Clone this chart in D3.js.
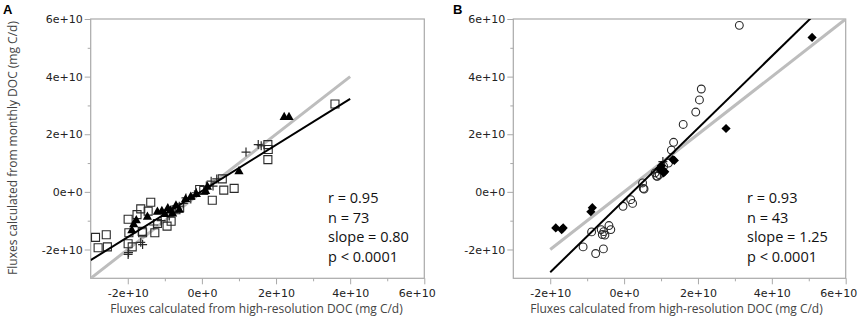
<!DOCTYPE html>
<html>
<head>
<meta charset="utf-8">
<script src="https://cdn.jsdelivr.net/npm/d3@7"></script>
<style>
  html, body { margin: 0; padding: 0; background: #fff; }
  svg { display: block; }
</style>
</head>
<body>
<svg id="chart" width="859" height="320"></svg>
<script>
// ---------------- DATA (values in units of 1e10 mg C/d) ----------------
const E = 1e10;

// Panel A
const aSquaresX = [-2.87,-2.58,-2.80,-2.55,-1.99,-1.97,-1.99,-1.88,-1.65,-1.38,-1.45,-1.60,-1.27,-0.94,-0.83,-1.75,-1.20,-0.60,-0.06,0.28,0.55,0.59,0.87,1.78,1.79,1.78,3.59,0.05,-1.61,-0.70];
const aSquaresY = [-1.58,-1.49,-1.94,-1.91,-0.95,-1.42,-1.80,-1.91,-0.59,-0.36,-0.67,-1.42,-1.42,-1.19,-1.02,-0.79,-1.10,-0.55,0.08,-0.29,0.45,0.06,0.12,1.64,1.47,1.12,3.05,0.05,-1.37,-0.62];
const aTrianglesX = [2.22,2.35,1.00,-0.44,-1.08,-0.92,-1.77,-1.89,-1.47,-0.79,-0.61,-1.20,-1.00,-0.30,-0.15,0.10,-0.85,-1.84,-0.70,0.15];
const aTrianglesY = [2.62,2.62,0.74,-0.23,-0.64,-0.55,-0.96,-1.31,-0.84,-0.73,-0.60,-0.67,-0.75,-0.15,-0.05,0.05,-0.62,-1.10,-0.45,0.20];
const aPlusX = [-1.99,-1.60,1.19,1.52,1.60,0.25,0.12,-0.43,-0.61,-0.88,-0.15,-0.30,-0.75,-1.10,-0.50,0.40,-0.20,-1.30,0.30,-1.65,-1.98];
const aPlusY = [-2.17,-1.83,1.38,1.64,1.60,0.37,0.20,-0.21,-0.50,-0.84,-0.03,-0.25,-0.70,-1.00,-0.40,0.45,-0.10,-1.15,0.20,-1.75,-2.11];
const aFit = { slope: 0.80, intercept: 0.03, x0: -3, x1: 4 };
const aIdentity = { x0: -3, x1: 4 };
const aStats = ["r = 0.95", "n = 73", "slope = 0.80", "p < 0.0001"];

// Panel B
const bCirclesX = [3.12,2.09,2.04,1.94,1.60,1.34,1.28,1.07,0.90,0.84,0.54,0.50,0.18,0.23,-0.03,-0.88,-1.11,-0.77,-0.56,-0.62,-0.59,-0.52,-0.41,-0.36,0.95,0.88,1.20,0.52,-0.55];
const bCirclesY = [5.78,3.57,3.19,2.77,2.34,1.72,1.45,0.89,0.54,0.66,0.10,0.31,-0.27,-0.40,-0.50,-1.39,-1.91,-2.14,-1.98,-1.31,-1.48,-1.50,-1.17,-1.31,0.60,0.55,1.00,0.12,-1.38];
const bDiamondsX = [5.09,2.76,1.36,1.32,1.07,1.01,1.05,0.95,-0.86,-0.90,-1.85,-1.69,-1.65,1.10];
const bDiamondsY = [5.36,2.20,1.09,1.12,0.66,0.91,0.75,0.80,-0.55,-0.69,-1.25,-1.31,-1.25,0.70];
const bPlusX = [1.05,0.97];
const bPlusY = [1.05,0.78];
const bFit = { slope: 1.25, intercept: -0.29, x0: -2, x1: 6 };
const bIdentity = { x0: -2, x1: 6 };
const bStats = ["r = 0.93", "n = 43", "slope = 1.25", "p < 0.0001"];

// Axes
const axisDomain = [-3, 6];
const majorTicks = [-2, 0, 2, 4, 6];
const majorTickLabels = ["-2e+10", "0e+0", "2e+10", "4e+10", "6e+10"];
const minorTicks = [-1, 1, 3, 5];
const xTitle = "Fluxes calculated from high-resolution DOC (mg C/d)";
const yTitle = "Fluxes calculated from monthly DOC (mg C/d)";
const panelLabels = ["A", "B"];

// ---------------- DRAWING ----------------
const svg = d3.select("#chart");
const frameColor = "#a9a9a9";
const tickFont = "'DejaVu Sans', Verdana, sans-serif";
const textFont = "'Open Sans', 'Noto Sans', sans-serif";

const zip = (xs, ys) => xs.map((x, i) => ({ x: x * E, y: ys[i] * E }));

const shapes = {
  square: "M-4,-4H4V4H-4Z",
  triangle: "M0,-4.6L4.6,3.6H-4.6Z",
  plus: "M-4.5,0H4.5M0,-4.5V4.5",
  circle: d3.symbol(d3.symbolCircle, 48)(),
  diamond: "M0,-4.6L4.6,0L0,4.6L-4.6,0Z"
};
const shapeStyle = {
  square:  { fill: "none", stroke: "#2a2a2a", sw: 1.1 },
  triangle:{ fill: "#000", stroke: "none", sw: 0 },
  plus:    { fill: "none", stroke: "#2a2a2a", sw: 1.2 },
  circle:  { fill: "none", stroke: "#2a2a2a", sw: 1.1 },
  diamond: { fill: "#000", stroke: "none", sw: 0 }
};

function drawPanel(cfg) {
  const x = d3.scaleLinear().domain(axisDomain.map(v => v * E)).range([cfg.left, cfg.right]);
  const y = d3.scaleLinear().domain(axisDomain.map(v => v * E)).range([cfg.bottom, cfg.top]);
  const g = svg.append("g");

  const clipId = "clip" + cfg.label;
  g.append("clipPath").attr("id", clipId)
    .append("rect").attr("x", cfg.left).attr("y", cfg.top)
    .attr("width", cfg.right - cfg.left).attr("height", cfg.bottom - cfg.top);

  // Y axis ticks (major + minor) on left edge
  const yAxis = d3.axisLeft(y).tickValues(majorTicks.map(v => v * E))
    .tickFormat((d, i) => majorTickLabels[i]).tickSizeOuter(0).tickSize(6).tickPadding(2);
  const ya = g.append("g").attr("transform", `translate(${cfg.left},0)`).call(yAxis);
  const yMinor = d3.axisLeft(y).tickValues(minorTicks.map(v => v * E)).tickFormat("").tickSize(3).tickSizeOuter(0);
  const ym = g.append("g").attr("transform", `translate(${cfg.left},0)`).call(yMinor);

  const xAxis = d3.axisBottom(x).tickValues(majorTicks.map(v => v * E))
    .tickFormat((d, i) => majorTickLabels[i]).tickSizeOuter(0).tickSize(6).tickPadding(5);
  const xa = g.append("g").attr("transform", `translate(0,${cfg.bottom})`).call(xAxis);
  const xMinor = d3.axisBottom(x).tickValues(minorTicks.map(v => v * E)).tickFormat("").tickSize(3).tickSizeOuter(0);
  const xm = g.append("g").attr("transform", `translate(0,${cfg.bottom})`).call(xMinor);

  [ya, ym, xa, xm].forEach(a => {
    a.select(".domain").remove();
    a.selectAll("line").attr("stroke", frameColor);
    a.selectAll("text").attr("fill", "#222").style("font-family", tickFont).style("font-size", "11px");
  });
  // last x tick label is kept inside the frame's right side
  xa.selectAll(".tick text").filter((d, i, n) => i === n.length - 1)
    .attr("text-anchor", "end").attr("x", 11);

  // frame
  g.append("rect").attr("x", cfg.left).attr("y", cfg.top)
    .attr("width", cfg.right - cfg.left).attr("height", cfg.bottom - cfg.top)
    .attr("fill", "none").attr("stroke", frameColor).attr("stroke-width", 1.2);

  const plot = g.append("g").attr("clip-path", `url(#${clipId})`);

  // identity line (grey)
  plot.append("line")
    .attr("x1", x(cfg.identity.x0 * E)).attr("y1", y(cfg.identity.x0 * E))
    .attr("x2", x(cfg.identity.x1 * E)).attr("y2", y(cfg.identity.x1 * E))
    .attr("stroke", "#bdbdbd").attr("stroke-width", 3);

  // points
  cfg.series.forEach(s => {
    const st = shapeStyle[s.shape];
    plot.append("g").selectAll("path").data(s.data).join("path")
      .attr("d", shapes[s.shape])
      .attr("transform", d => `translate(${x(d.x)},${y(d.y)})`)
      .attr("fill", st.fill).attr("stroke", st.stroke).attr("stroke-width", st.sw);
  });

  // regression line (black)
  const f = cfg.fit;
  plot.append("line")
    .attr("x1", x(f.x0 * E)).attr("y1", y((f.slope * f.x0 + f.intercept) * E))
    .attr("x2", x(f.x1 * E)).attr("y2", y((f.slope * f.x1 + f.intercept) * E))
    .attr("stroke", "#000").attr("stroke-width", 2);

  // stats text
  const st = g.append("text").attr("x", cfg.statsX).attr("y", 203)
    .style("font-family", textFont).style("font-size", "14.5px").attr("fill", "#111");
  cfg.stats.forEach((t, i) => {
    st.append("tspan").attr("x", cfg.statsX).attr("y", 203 + i * 19.6).text(t);
  });

  // x title
  g.append("text").attr("x", (cfg.left + cfg.right) / 2 + cfg.xTitleShift).attr("y", 313)
    .attr("text-anchor", "middle").style("font-family", textFont).style("font-size", "12px")
    .attr("fill", "#444").text(xTitle);

  // panel label
  g.append("text").attr("x", cfg.labelX).attr("y", 14)
    .style("font-family", "'Liberation Sans', Arial, sans-serif").style("font-size", "13px")
    .style("font-weight", "bold").attr("fill", "#000").text(cfg.label);

  return g;
}

drawPanel({
  label: panelLabels[0], labelX: 3, left: 90.7, right: 424.3, top: 19, bottom: 278.3,
  series: [
    { shape: "square", data: zip(aSquaresX, aSquaresY) },
    { shape: "plus", data: zip(aPlusX, aPlusY) },
    { shape: "triangle", data: zip(aTrianglesX, aTrianglesY) }
  ],
  fit: aFit, identity: aIdentity, stats: aStats, statsX: 328, xTitleShift: -1
});

drawPanel({
  label: panelLabels[1], labelX: 453, left: 513.3, right: 845.7, top: 19, bottom: 278.3,
  series: [
    { shape: "circle", data: zip(bCirclesX, bCirclesY) },
    { shape: "plus", data: zip(bPlusX, bPlusY) },
    { shape: "diamond", data: zip(bDiamondsX, bDiamondsY) }
  ],
  fit: bFit, identity: bIdentity, stats: bStats, statsX: 747, xTitleShift: -3
});

// y title (panel A only)
svg.append("text").attr("transform", "translate(17,148) rotate(-90)")
  .attr("text-anchor", "middle").style("font-family", textFont).style("font-size", "12px")
  .attr("fill", "#444").text(yTitle);
</script>
</body>
</html>
